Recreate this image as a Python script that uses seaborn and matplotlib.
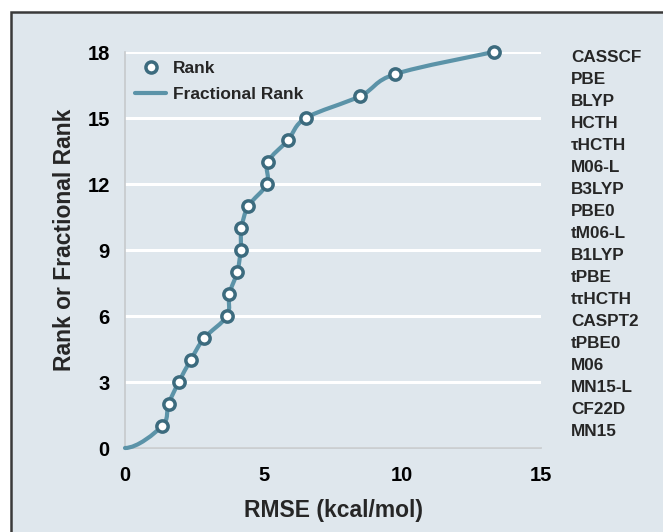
import numpy as np
import pandas as pd
import matplotlib
matplotlib.use("Agg")
import matplotlib.pyplot as plt
import seaborn as sns
from matplotlib.path import Path
from matplotlib.patches import PathPatch, Rectangle
from matplotlib.lines import Line2D

# RMSE of each method, sorted, and its rank
rmse = [1.34, 1.57, 1.94, 2.37, 2.86, 3.68, 3.76, 4.05, 4.17, 4.20,
        4.45, 5.12, 5.15, 5.88, 6.52, 8.49, 9.75, 13.29]
rank = list(range(1, 19))
# methods listed from rank 18 down to rank 1
methods = ["CASSCF", "PBE", "BLYP", "HCTH", "\u03c4HCTH", "M06-L", "B3LYP", "PBE0",
           "tM06-L", "B1LYP", "tPBE", "t\u03c4HCTH", "CASPT2", "tPBE0", "M06",
           "MN15-L", "CF22D", "MN15"]

# fractional rank curve starts at the origin
frac_x = [0.0] + rmse
frac_y = [0.0] + rank

df = pd.DataFrame({"RMSE": rmse, "Rank": rank})

sns.set_theme(style="white")
plt.rcParams['font.family'] = ['Liberation Sans', 'DejaVu Sans']

bg = "#dfe7ed"
line_col = "#5b93a8"
edge_col = "#3c6b7e"

fig = plt.figure(figsize=(6.63, 5.32), dpi=100)
fig.patch.set_facecolor("white")
fig.patches.append(Rectangle((10.5 / 663, -0.05), 1.0, (532 - 11.5) / 532 + 0.05,
                             transform=fig.transFigure, facecolor=bg,
                             edgecolor="#3a3a3a", linewidth=1.8, zorder=-5))

ax = fig.add_axes([125 / 663, 84 / 532, 416 / 663, 396 / 532])
ax.set_facecolor(bg)

# smoothed line (bezier through the points, like a spreadsheet smooth line)
pts = np.column_stack([frac_x, frac_y])
n = len(pts)
verts = [pts[0]]
codes = [Path.MOVETO]
for i in range(n - 1):
    p0 = pts[max(i - 1, 0)]
    p1 = pts[i]
    p2 = pts[i + 1]
    p3 = pts[min(i + 2, n - 1)]
    if i == 0:
        c1 = p1 + np.array([(p2[0] - p1[0]) / 3.0, 0.0])
    else:
        c1 = p1 + (p2 - p0) / 6.0
    c2 = p2 - (p3 - p1) / 6.0
    verts += [c1, c2, p2]
    codes += [Path.CURVE4] * 3
ax.add_patch(PathPatch(Path(verts, codes), facecolor="none", edgecolor=line_col,
                       linewidth=3.0, capstyle="round", zorder=3, clip_on=False))

sns.scatterplot(data=df, x="RMSE", y="Rank", ax=ax, marker="o", s=66,
                facecolor="white", edgecolor=edge_col, linewidth=2.5, zorder=4,
                legend=False, clip_on=False)

ax.set_xlim(0, 15)
ax.set_ylim(0, 18)
ax.set_xticks([0, 5, 10, 15])
ax.set_yticks([0, 3, 6, 9, 12, 15, 18])
ax.yaxis.grid(True, color="white", linewidth=2.2)
ax.xaxis.grid(False)
ax.set_axisbelow(True)
for s in ["top", "right"]:
    ax.spines[s].set_visible(False)
for s in ["left", "bottom"]:
    ax.spines[s].set_color("#c6c9cc")
    ax.spines[s].set_linewidth(1.2)
ax.tick_params(axis="both", length=0, labelsize=14.5, colors="black")
ax.tick_params(axis="y", pad=11)
ax.tick_params(axis="x", pad=13)
for t in ax.get_xticklabels() + ax.get_yticklabels():
    t.set_fontweight("bold")

ax.set_xlabel("RMSE (kcal/mol)", fontsize=16.5, fontweight="bold", labelpad=10)
ax.set_ylabel("Rank or Fractional Rank", fontsize=16.5, fontweight="bold", labelpad=8)
ax.yaxis.label.set_y(0.525)

# method names to the right of the plot
trans = ax.get_yaxis_transform()
for i, m in enumerate(methods):
    ax.text(1.072, 18 - i - 0.25, m, transform=trans, ha="left", va="center",
            fontsize=12.3, fontweight="bold", clip_on=False)

handles = [
    Line2D([], [], linestyle="none", marker="o", markersize=8, markerfacecolor="white",
           markeredgecolor=edge_col, markeredgewidth=2.5),
    Line2D([], [], color=line_col, linewidth=3.0),
]
ax.legend(handles, ["Rank", "Fractional Rank"], loc="upper left",
          bbox_to_anchor=(10 / 416, 0.978), frameon=False, handlelength=1.8,
          handletextpad=0.4, prop={"weight": "bold", "size": 12.5},
          labelspacing=0.62, borderaxespad=0, borderpad=0)

fig.savefig("out.png", dpi=100, facecolor=fig.get_facecolor())
